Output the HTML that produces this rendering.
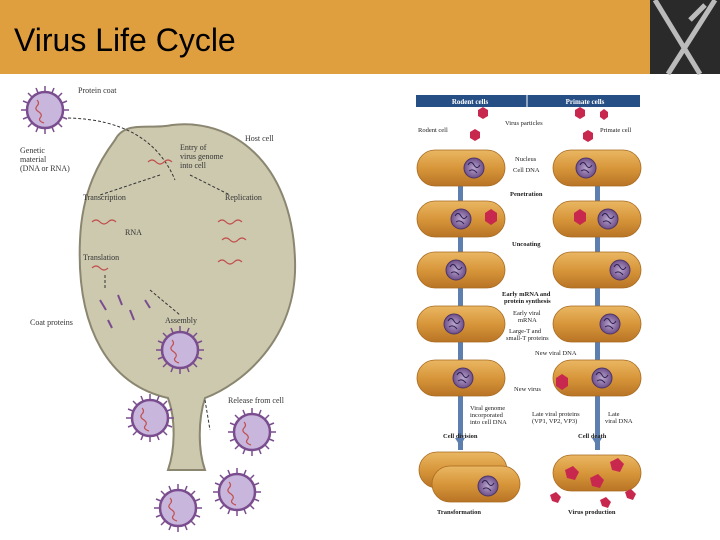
<!DOCTYPE html>
<html><head><meta charset="utf-8"><style>
body{margin:0;width:720px;height:540px;overflow:hidden;background:#fff;font-family:"Liberation Serif",serif}
svg{position:absolute;left:0;top:0}
</style></head><body>
<svg width="720" height="540" viewBox="0 0 720 540">
<defs>
<linearGradient id="cg" x1="0" y1="0" x2="0" y2="1"><stop offset="0" stop-color="#eab763"/><stop offset="0.5" stop-color="#d8963a"/><stop offset="1" stop-color="#b87425"/></linearGradient>
<radialGradient id="ng"><stop offset="0" stop-color="#b9a6cc"/><stop offset="1" stop-color="#6e4f8a"/></radialGradient>
<g id="vir"><g stroke="#7a4d8e" stroke-width="1.5"><line x1="0" y1="-24" x2="0" y2="24"/><line x1="-24" y1="0" x2="24" y2="0"/><line x1="-17" y1="-17" x2="17" y2="17"/><line x1="-17" y1="17" x2="17" y2="-17"/><line x1="-9" y1="-22" x2="9" y2="22"/><line x1="9" y1="-22" x2="-9" y2="22"/><line x1="-22" y1="-9" x2="22" y2="9"/><line x1="-22" y1="9" x2="22" y2="-9"/></g><circle r="18" fill="#c9b6dd" stroke="#7a4d8e" stroke-width="2.5"/><path d="M-8,-10 q3,3 0,6 q-3,3 2,6 q4,3 1,6 q-2,3 4,5" fill="none" stroke="#c0504d" stroke-width="1.2"/></g>
<g id="cell"><rect x="0" y="0" width="88" height="36" rx="18" fill="url(#cg)" stroke="#a86a20" stroke-width="0.8"/></g>
<g id="nuc"><circle r="10" fill="url(#ng)" stroke="#4d3566"/><path d="M-6,-3 q3,-5 6,0 q3,5 6,0 M-5,3 q4,-3 8,2" fill="none" stroke="#2d2050"/></g>
</defs>
<rect x="0" y="0" width="720" height="74" fill="#e09f3e"/>
<rect x="650" y="0" width="70" height="74" fill="#2a2a2a"/>
<path d="M655,0 L700,74 M715,0 L668,74 M690,20 L705,5" stroke="#bbb" stroke-width="5"/>
<text x="14" y="51" font-family="Liberation Sans, sans-serif" font-size="32" fill="#000">Virus Life Cycle</text>

<path d="M115,140 C125,120 150,130 172,125 C230,118 292,160 295,260 C298,340 240,385 205,398 C198,420 198,450 205,470 L168,470 C175,450 176,420 168,398 C110,385 76,330 80,240 C82,190 100,160 115,140 Z" fill="#cdc9af" stroke="#8a8670" stroke-width="2"/>
<use href="#vir" x="45" y="110"/>
<use href="#vir" x="180" y="350"/>
<use href="#vir" x="150" y="418"/>
<use href="#vir" x="252" y="432"/>
<use href="#vir" x="178" y="508"/>
<use href="#vir" x="237" y="492"/>
<g font-size="8" fill="#333">
<text x="78" y="93">Protein coat</text>
<text x="20" y="153">Genetic</text><text x="20" y="162">material</text><text x="20" y="171">(DNA or RNA)</text>
<text x="180" y="150">Entry of</text><text x="180" y="159">virus genome</text><text x="180" y="168">into cell</text>
<text x="245" y="141">Host cell</text>
<text x="83" y="200">Transcription</text>
<text x="225" y="200">Replication</text>
<text x="125" y="235">RNA</text>
<text x="83" y="260">Translation</text>
<text x="30" y="325">Coat proteins</text>
<text x="165" y="323">Assembly</text>
<text x="228" y="403">Release from cell</text>
</g>
<g fill="none" stroke="#333" stroke-width="1" stroke-dasharray="3,2">
<path d="M68,118 Q150,120 175,180"/><path d="M160,175 L100,195"/><path d="M190,175 L230,195"/><path d="M105,275 L105,290"/><path d="M150,290 L180,315"/><path d="M205,400 L210,430"/>
</g>
<g fill="none" stroke="#c0504d" stroke-width="1.2">
<path d="M148,162 q4,-4 8,0 q4,4 8,0 q4,-4 8,0"/><path d="M92,222 q4,-4 8,0 q4,4 8,0 q4,-4 8,0"/><path d="M218,222 q4,-4 8,0 q4,4 8,0 q4,-4 8,0"/><path d="M222,240 q4,-4 8,0 q4,4 8,0 q4,-4 8,0"/><path d="M218,262 q4,-4 8,0 q4,4 8,0 q4,-4 8,0"/><path d="M92,268 q4,-4 8,0 q4,4 8,0"/>
</g>
<g stroke="#7a4d8e" stroke-width="2"><line x1="100" y1="300" x2="106" y2="310"/><line x1="118" y1="295" x2="122" y2="305"/><line x1="130" y1="310" x2="134" y2="320"/><line x1="108" y1="320" x2="112" y2="328"/><line x1="145" y1="300" x2="150" y2="308"/></g>

<rect x="416" y="95" width="224" height="12" fill="#264f86"/>
<line x1="527" y1="95" x2="527" y2="107" stroke="#fff"/>
<text x="470" y="104" font-size="7" fill="#fff" text-anchor="middle" font-weight="bold">Rodent cells</text>
<text x="585" y="104" font-size="7" fill="#fff" text-anchor="middle" font-weight="bold">Primate cells</text>
<rect x="458" y="185" width="5" height="265" fill="#5d7fb0"/>
<rect x="595" y="185" width="5" height="265" fill="#5d7fb0"/>
<path d="M455,438 h10 l-5,8z M592,438 h10 l-5,8z" fill="#5d7fb0"/>
<g>
<use href="#cell" x="417" y="150"/><use href="#cell" x="553" y="150"/>
<use href="#cell" x="417" y="201"/><use href="#cell" x="553" y="201"/>
<use href="#cell" x="417" y="252"/><use href="#cell" x="553" y="252"/>
<use href="#cell" x="417" y="306"/><use href="#cell" x="553" y="306"/>
<use href="#cell" x="417" y="360"/><use href="#cell" x="553" y="360"/>
<use href="#cell" x="419" y="452"/><use href="#cell" x="432" y="466"/><use href="#cell" x="553" y="455"/>
</g>
<use href="#nuc" x="474" y="168"/><use href="#nuc" x="586" y="168"/>
<use href="#nuc" x="461" y="219"/><use href="#nuc" x="608" y="219"/>
<use href="#nuc" x="456" y="270"/><use href="#nuc" x="620" y="270"/>
<use href="#nuc" x="454" y="324"/><use href="#nuc" x="610" y="324"/>
<use href="#nuc" x="463" y="378"/><use href="#nuc" x="602" y="378"/>
<use href="#nuc" x="488" y="486"/>
<g fill="#c8284e"><path d="M485,213 l6,-4 6,4 0,8 -6,4 -6,-4z"/><path d="M574,213 l6,-4 6,4 0,8 -6,4 -6,-4z"/><path d="M556,378 l6,-4 6,4 0,8 -6,4 -6,-4z"/>
<path d="M478,110 l5,-3 5,3 0,6 -5,3 -5,-3z"/><path d="M470,132 l5,-3 5,3 0,6 -5,3 -5,-3z"/><path d="M575,110 l5,-3 5,3 0,6 -5,3 -5,-3z"/><path d="M583,133 l5,-3 5,3 0,6 -5,3 -5,-3z"/><path d="M600,112 l4,-3 4,3 0,5 -4,3 -4,-3z"/>
<path d="M565,470 l8,-4 6,6 -4,8 -8,-2z"/><path d="M590,478 l8,-4 6,6 -4,8 -8,-2z"/><path d="M610,462 l8,-4 6,6 -4,8 -8,-2z"/><path d="M550,495 l6,-3 5,5 -3,6 -6,-2z"/><path d="M600,500 l6,-3 5,5 -3,6 -6,-2z"/><path d="M625,492 l6,-3 5,5 -3,6 -6,-2z"/></g>
<g font-size="6.5" fill="#222">
<text x="505" y="125">Virus particles</text><text x="418" y="132">Rodent cell</text><text x="600" y="132">Primate cell</text>
<text x="515" y="161">Nucleus</text><text x="513" y="172">Cell DNA</text>
<text x="510" y="196" font-weight="bold">Penetration</text>
<text x="512" y="246" font-weight="bold">Uncoating</text>
<text x="502" y="296" font-weight="bold">Early mRNA and</text><text x="504" y="303" font-weight="bold">protein synthesis</text>
<text x="513" y="315">Early viral</text><text x="518" y="322">mRNA</text>
<text x="509" y="333">Large-T and</text><text x="506" y="340">small-T proteins</text>
<text x="535" y="355">New viral DNA</text>
<text x="514" y="391">New virus</text>
<text x="470" y="410">Viral genome</text><text x="470" y="417">incorporated</text><text x="470" y="424">into cell DNA</text>
<text x="532" y="416">Late viral proteins</text><text x="532" y="423">(VP1, VP2, VP3)</text>
<text x="608" y="416">Late</text><text x="605" y="423">viral DNA</text>
<text x="443" y="438" font-weight="bold">Cell division</text><text x="578" y="438" font-weight="bold">Cell death</text>
<text x="437" y="514" font-weight="bold">Transformation</text><text x="568" y="514" font-weight="bold">Virus production</text>
</g>
</svg>
</body></html>
